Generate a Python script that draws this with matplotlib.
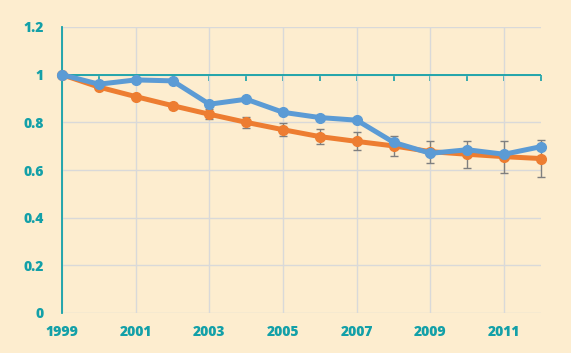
import numpy as np
import matplotlib.pyplot as plt

years = list(range(1999, 2013))
blue_vals = [1.0, 0.96, 0.978, 0.974, 0.876, 0.897, 0.842, 0.820, 0.809,
             0.716, 0.670, 0.685, 0.666, 0.698]
orange_vals = [1.0, 0.948, 0.908, 0.870, 0.834, 0.800, 0.769, 0.740, 0.720,
               0.701, 0.677, 0.666, 0.656, 0.648]
orange_err = [0.0, 0.0, 0.0, 0.012, 0.020, 0.023, 0.027, 0.033, 0.038,
              0.041, 0.046, 0.057, 0.067, 0.078]
x_labels = [1999, 2001, 2003, 2005, 2007, 2009, 2011]
y_ticks = [0, 0.2, 0.4, 0.6, 0.8, 1.0, 1.2]
y_labels = ["0", "0.2", "0.4", "0.6", "0.8", "1", "1.2"]

bg = "#fdedcf"
teal = "#13a0a8"
grid_col = "#d9d9d9"
blue = "#5b9bd5"
orange = "#ed7d31"

plt.rcParams['font.family'] = ['Open Sans', 'DejaVu Sans']

fig = plt.figure(figsize=(5.71, 3.53), dpi=100, facecolor=bg)
ax = fig.add_axes([62/571, 40/353, 479/571, 286/353], facecolor=bg)

ax.errorbar(years, orange_vals, yerr=orange_err, fmt="none", ecolor="#7f7f7f",
            elinewidth=1, capsize=3, capthick=1, zorder=2, clip_on=False)
ax.plot(years, orange_vals, color=orange, lw=3.6, marker="o", ms=7,
        zorder=3, clip_on=False)
ax.plot(years, blue_vals, color=blue, lw=3.6, marker="o", ms=7,
        zorder=4, clip_on=False)

ax.set_xlim(1999, 2012)
ax.set_ylim(0, 1.2)
ax.set_xticks(x_labels)
ax.set_xticklabels([str(y) for y in x_labels])
ax.set_yticks(y_ticks)
ax.set_yticklabels(y_labels)
ax.tick_params(axis="both", length=0, colors=teal, labelsize=10)
ax.tick_params(axis="y", pad=13)
ax.tick_params(axis="x", pad=9)
for lab in ax.get_xticklabels() + ax.get_yticklabels():
    lab.set_fontweight("heavy")
ax.grid(True, color=grid_col, lw=1, zorder=0)
ax.set_axisbelow(True)

for s in ["top", "right", "bottom"]:
    ax.spines[s].set_visible(False)
ax.spines["left"].set_color(teal)
ax.spines["left"].set_linewidth(1.3)

# horizontal axis crossing at y = 1
ax.axhline(1.0, color=teal, lw=1.3, zorder=1)
sec = ax.secondary_xaxis(1.0 / 1.2)
sec.set_xticks(years)
sec.set_xticklabels([])
sec.tick_params(axis="x", direction="in", length=4, width=1.2, color=teal)
for s in sec.spines.values():
    s.set_visible(False)

fig.savefig("out.png", dpi=100, facecolor=bg)
